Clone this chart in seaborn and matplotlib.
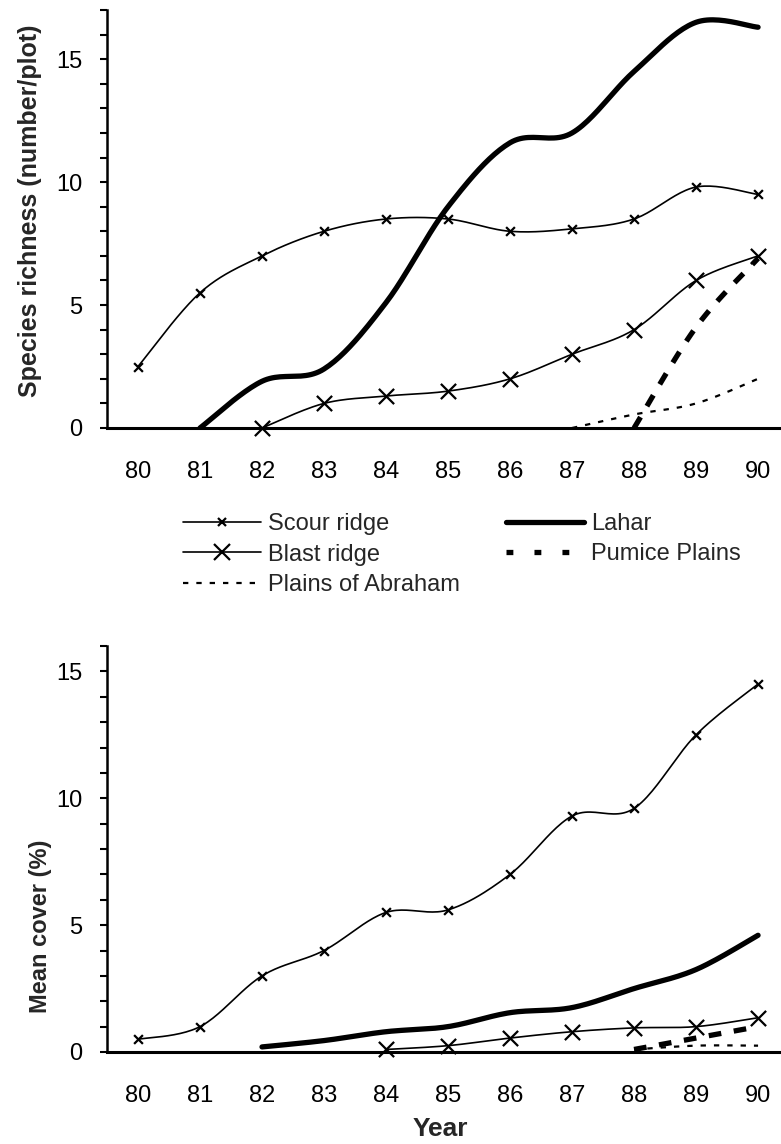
import numpy as np
import pandas as pd
import matplotlib
matplotlib.use("Agg")
import matplotlib.pyplot as plt
import seaborn as sns
from matplotlib.lines import Line2D
from matplotlib.ticker import MultipleLocator, NullFormatter

# ---------------- data ----------------
years = [80, 81, 82, 83, 84, 85, 86, 87, 88, 89, 90]
year_labels = ["80", "81", "82", "83", "84", "85", "86", "87", "88", "89", "90"]

# Species richness (number/plot)
scour_rich_x = [80, 81, 82, 83, 84, 85, 86, 87, 88, 89, 90]
scour_rich = [2.5, 5.5, 7.0, 8.0, 8.5, 8.5, 8.0, 8.1, 8.5, 9.8, 9.5]
lahar_rich_x = [81, 82, 83, 84, 85, 86, 87, 88, 89, 90]
lahar_rich = [0.0, 1.9, 2.4, 5.1, 9.0, 11.6, 12.0, 14.5, 16.5, 16.3]
blast_rich_x = [82, 83, 84, 85, 86, 87, 88, 89, 90]
blast_rich = [0.0, 1.0, 1.3, 1.5, 2.0, 3.0, 4.0, 6.0, 7.0]
pumice_rich_x = [88, 89, 90]
pumice_rich = [0.0, 4.1, 6.9]
abraham_rich_x = [87, 88, 89, 90]
abraham_rich = [0.0, 0.55, 1.0, 2.0]

# Mean cover (%)
scour_cov_x = [80, 81, 82, 83, 84, 85, 86, 87, 88, 89, 90]
scour_cov = [0.5, 1.0, 3.0, 4.0, 5.5, 5.6, 7.0, 9.3, 9.6, 12.5, 14.5]
lahar_cov_x = [82, 83, 84, 85, 86, 87, 88, 89, 90]
lahar_cov = [0.2, 0.45, 0.8, 1.0, 1.55, 1.75, 2.5, 3.25, 4.6]
blast_cov_x = [84, 85, 86, 87, 88, 89, 90]
blast_cov = [0.1, 0.25, 0.55, 0.8, 0.95, 1.0, 1.35]
pumice_cov_x = [88, 89, 90]
pumice_cov = [0.1, 0.55, 1.0]
abraham_cov_x = [88, 89, 90]
abraham_cov = [0.1, 0.25, 0.25]

series_names = ["Scour ridge", "Blast ridge", "Plains of Abraham", "Lahar", "Pumice Plains"]


# ------------- helpers -------------
def smooth_curve(x, y, n=24):
    """Catmull-Rom rendering of a smoothed line through the data points."""
    x = np.asarray(x, float)
    y = np.asarray(y, float)
    if len(x) < 3:
        return x, y
    P = np.column_stack([x, y])
    P = np.vstack([P[0], P, P[-1]])
    out = []
    t = np.linspace(0, 1, n, endpoint=False)[:, None]
    for i in range(1, len(P) - 2):
        p0, p1, p2, p3 = P[i - 1], P[i], P[i + 1], P[i + 2]
        pts = 0.5 * ((2 * p1) + (-p0 + p2) * t
                     + (2 * p0 - 5 * p1 + 4 * p2 - p3) * t ** 2
                     + (-p0 + 3 * p1 - 3 * p2 + p3) * t ** 3)
        out.append(pts)
    out.append(P[-2][None, :])
    out = np.vstack(out)
    return out[:, 0], out[:, 1]


def draw_series(ax, x, y, lw, ls="-", marker=None, ms=0):
    sx, sy = smooth_curve(x, y)
    df = pd.DataFrame({"x": sx, "y": sy})
    sns.lineplot(data=df, x="x", y="y", ax=ax, sort=False, estimator=None,
                 color="black", linewidth=lw, linestyle=ls)
    if marker is not None:
        dfm = pd.DataFrame({"x": x, "y": y})
        sns.scatterplot(data=dfm, x="x", y="y", ax=ax, marker=marker, s=ms,
                        color="black", linewidth=1.6, zorder=5, clip_on=False)


# ------------- figure -------------
sns.set_theme(style="ticks")
plt.rcParams["font.family"] = ["Liberation Sans", "DejaVu Sans"]

fig = plt.figure(figsize=(7.81, 11.44), dpi=100)
W, H = 781.0, 1144.0
ax1 = fig.add_axes([107 / W, 1 - 428 / H, 674 / W, 418 / H])
ax2 = fig.add_axes([107 / W, 1 - 1052 / H, 674 / W, 406 / H])

THIN = 1.2
THICK = 3.8
DOT_LW = 1.6
dash_thick = (0, (2.4, 2.4))
dot_thin = (0, (2.4, 3.6))

# top panel
draw_series(ax1, scour_rich_x, scour_rich, THIN, marker="x", ms=40)
draw_series(ax1, blast_rich_x, blast_rich, THIN, marker="x", ms=120)
draw_series(ax1, abraham_rich_x, abraham_rich, DOT_LW, ls=dot_thin)
draw_series(ax1, lahar_rich_x, lahar_rich, THICK)
draw_series(ax1, pumice_rich_x, pumice_rich, THICK, ls=dash_thick)

# bottom panel
draw_series(ax2, scour_cov_x, scour_cov, THIN, marker="x", ms=40)
draw_series(ax2, blast_cov_x, blast_cov, THIN, marker="x", ms=120)
draw_series(ax2, abraham_cov_x, abraham_cov, DOT_LW, ls=dot_thin)
draw_series(ax2, lahar_cov_x, lahar_cov, THICK)
draw_series(ax2, pumice_cov_x, pumice_cov, THICK, ls=dash_thick)

for ax, ymax in ((ax1, 17), (ax2, 16)):
    ax.set_xlim(79.5, 90.37)
    ax.set_ylim(0, ymax)
    ax.set_xticks(years)
    ax.set_xticklabels(year_labels)
    ax.yaxis.set_major_locator(MultipleLocator(5))
    ax.yaxis.set_minor_locator(MultipleLocator(1))
    ax.yaxis.set_minor_formatter(NullFormatter())
    ax.tick_params(axis="x", length=0, pad=24, labelsize=17, colors="black")
    ax.tick_params(axis="y", which="both", direction="out", length=5,
                   width=1.5, pad=13, labelsize=17, colors="black")
    for side in ("top", "right"):
        ax.spines[side].set_visible(False)
    ax.spines["left"].set_linewidth(1.8)
    ax.spines["bottom"].set_linewidth(2.2)
    ax.spines["left"].set_color("black")
    ax.spines["bottom"].set_color("black")
    ax.set_facecolor("white")
    ax.set_xlabel("")

ax1.set_ylabel("Species richness (number/plot)", fontsize=18, fontweight="bold")
ax1.yaxis.set_label_coords(-0.0964, 0.52)
ax2.set_ylabel("Mean cover (%)", fontsize=17, fontweight="bold")
ax2.yaxis.set_label_coords(-0.082, 0.31)
ax2.set_xlabel("Year", fontsize=19, fontweight="bold")
ax2.xaxis.set_label_coords(0.494, -0.160)

# legend
handles = [
    Line2D([], [], color="black", lw=THIN, marker="x", ms=6, mew=1.6),
    Line2D([], [], color="black", lw=THIN, marker="x", ms=11, mew=1.6),
    Line2D([], [], color="black", lw=DOT_LW, ls=dot_thin),
    Line2D([], [], color="black", lw=THICK),
    Line2D([], [], color="black", lw=THICK, ls=(0, (1.3, 4.0))),
]
fig.legend(handles, series_names, ncol=2, loc="upper left",
           bbox_to_anchor=(183 / W, 1 - 513 / H), frameon=False,
           fontsize=17, handlelength=3.3, handletextpad=0.3,
           columnspacing=1.95, labelspacing=0.36, borderpad=0,
           borderaxespad=0)

fig.savefig("out.png", dpi=100, facecolor="white")
